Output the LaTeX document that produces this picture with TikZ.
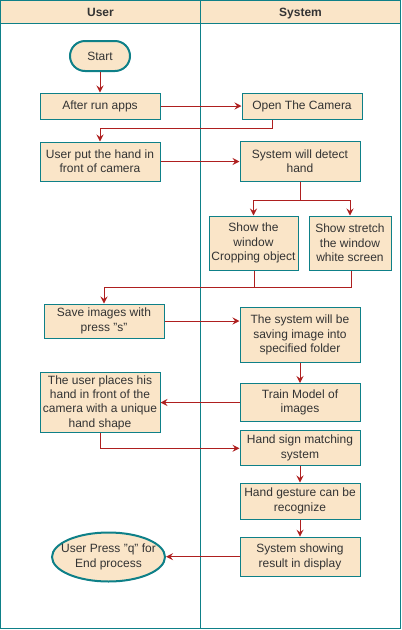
\documentclass[tikz,border=0pt]{standalone}
\usepackage{fontspec}
\setmainfont{Liberation Sans}
\usetikzlibrary{arrows.meta,shapes.geometric}
\definecolor{boxfill}{HTML}{FAE5C8}
\definecolor{teal0}{HTML}{0E8088}
\definecolor{arrowred}{HTML}{AE1F1F}
\definecolor{txt}{HTML}{333333}
\tikzset{
  procbox/.style={draw=teal0, fill=boxfill, line width=1pt, inner sep=0pt, align=center, text=txt,
    font=\fontsize{12}{14.4}\selectfont},
  termbox/.style={procbox, line width=2pt, rounded corners=15pt},
  endbox/.style={procbox, line width=2pt, ellipse, inner xsep=-16pt, inner ysep=-8pt},
  lane/.style={draw=teal0, line width=1pt},
  flow/.style={draw=arrowred, line width=1pt, -{Stealth[length=7pt,width=7pt,inset=2.5pt]}},
  plainflow/.style={draw=arrowred, line width=1pt},
  headtxt/.style={font=\bfseries\fontsize{12}{14.4}\selectfont, text=txt, anchor=base}
}
\begin{document}
\begin{tikzpicture}[x=1pt,y=-1pt]
\useasboundingbox (0,0) rectangle (402,630);
% swimlanes
\path[fill=boxfill] (0.5,0.5) rectangle (400.5,23);
\draw[lane] (0.5,0.5) rectangle (400.5,628.5);
\draw[lane] (0.5,23) -- (400.5,23);
\draw[lane] (200.5,0.5) -- (200.5,628.5);
\node[headtxt] (hUser) at (100.5,16.2) {User};
\node[headtxt] (hSys) at (300.5,16.2) {System};
% nodes
\node[termbox, minimum width=60pt, minimum height=30pt] (start) at (100,56) {Start};
\node[procbox, minimum width=120pt, minimum height=26pt] (run) at (100,106) {After run apps};
\node[procbox, minimum width=120pt, minimum height=26pt] (cam) at (302,106) {Open The Camera};
\node[procbox, minimum width=120pt, minimum height=39pt] (put) at (100,161.5) {User put the hand in\\front of camera};
\node[procbox, minimum width=120pt, minimum height=40pt] (detect) at (300,161) {System will detect\\hand};
\node[procbox, minimum width=89pt, minimum height=54pt] (crop) at (253.5,243) {Show the\\window\\Cropping object};
\node[procbox, minimum width=82pt, minimum height=54pt] (white) at (350,243) {Show stretch\\the window\\white screen};
\node[procbox, minimum width=120pt, minimum height=34pt] (save) at (104,321) {Save images with\\press "s"};
\node[procbox, minimum width=120pt, minimum height=55pt] (saving) at (300,335) {The system will be\\saving image into\\specified folder};
\node[procbox, minimum width=120pt, minimum height=38pt] (train) at (300,402.5) {Train Model of\\images};
\node[procbox, minimum width=120pt, minimum height=60pt] (places) at (100,402.5) {The user places his\\hand in front of the\\camera with a unique\\hand shape};
\node[procbox, minimum width=120pt, minimum height=35pt] (match) at (300,447.7) {Hand sign matching\\system};
\node[procbox, minimum width=120pt, minimum height=36pt] (gesture) at (300,501) {Hand gesture can be\\recognize};
\node[procbox, minimum width=120pt, minimum height=39pt] (show) at (300,556.7) {System showing\\result in display};
\node[endbox, minimum width=113pt, minimum height=49pt] (finish) at (108.5,557) {User Press "q" for\\End process};
% connectors
\coordinate (cbend) at (272,128);
\coordinate (split) at (300,200);
\coordinate (jl) at (254,287.7);
\coordinate (jr) at (351.5,287.7);
\coordinate (pbend) at (100,448.3);
\draw[flow] (start) -- (run);
\draw[flow] (run) -- (cam);
\draw[flow] (cam.south -| cbend) -- (cbend) -| (put.north);
\draw[flow] (put.east) -- (put.east -| detect.west);
\draw[plainflow] (detect.south) -- (split);
\draw[flow] (split) -| (crop.north);
\draw[flow] (split) -| (white.north);
\draw[plainflow] (crop.south -| jl) -- (jl);
\draw[flow] (white.south -| jr) -- (jr) -| (save.north);
\draw[flow] (save.east) -- (save.east -| saving.west);
\draw[flow] (saving) -- (train);
\draw[flow] (train.west) -- (train.west -| places.east);
\draw[flow] (places.south) -- (pbend) -- (pbend -| match.west);
\draw[flow] (match) -- (gesture);
\draw[flow] (gesture) -- (show);
\draw[flow] (show.west) -- (show.west -| finish.east);
\end{tikzpicture}
\end{document}
